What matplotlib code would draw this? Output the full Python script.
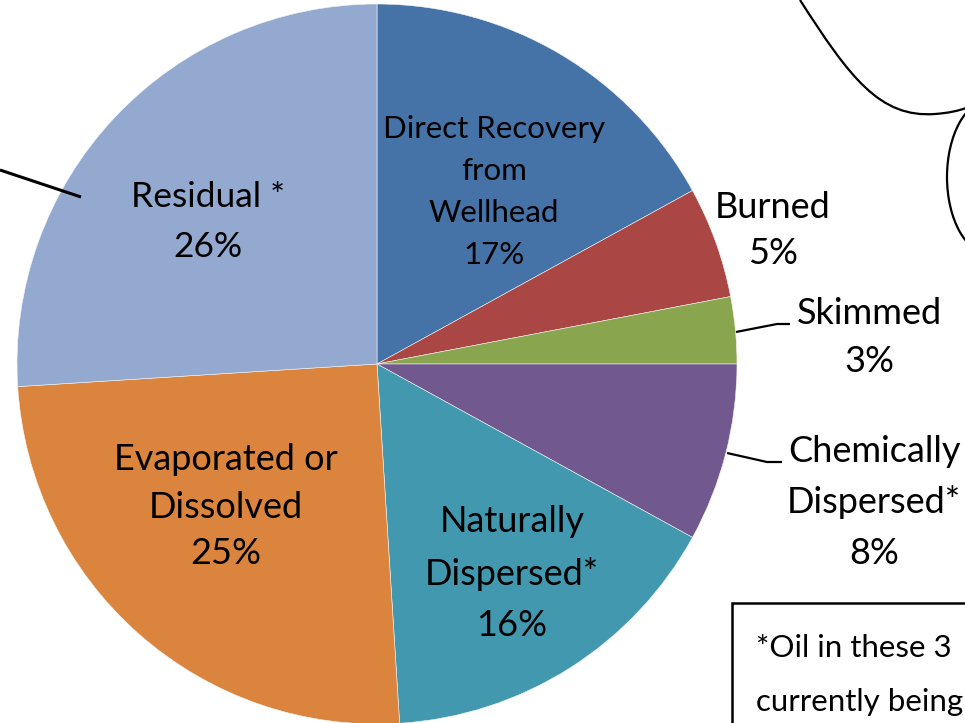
import matplotlib
matplotlib.use("Agg")
import matplotlib.pyplot as plt
from matplotlib.patches import Ellipse, PathPatch, Rectangle
from matplotlib.path import Path

plt.rcParams['font.family'] = ['Lato', 'DejaVu Sans']

# ---- data ----
categories = ["Direct Recovery from Wellhead", "Burned", "Skimmed",
              "Chemically Dispersed", "Naturally Dispersed",
              "Evaporated or Dissolved", "Residual"]
values = [17, 5, 3, 8, 16, 25, 26]
label_lines = [
    ["Direct Recovery", "from", "Wellhead"],
    ["Burned"],
    ["Skimmed"],
    ["Chemically", "Dispersed*"],
    ["Naturally", "Dispersed*"],
    ["Evaporated or", "Dissolved"],
    ["Residual *"],
]
colors = ["#4572A7", "#AA4643", "#89A54E", "#71588F", "#4198AF", "#DB843D", "#93A9CF"]
note_lines = ["*Oil in these 3", "currently being"]

W, H = 965, 723
def Y(y):
    return H - y

fig = plt.figure(figsize=(W / 100, H / 100), dpi=100)
ax = fig.add_axes([0, 0, 1, 1])

cx, cy, R = 377, 364, 360
ax.pie(values, colors=colors, startangle=90, counterclock=False,
       center=(cx, Y(cy)), radius=R, frame=True,
       wedgeprops=dict(edgecolor='#f4f4f4', linewidth=0.4))
ax.set_xlim(0, W)
ax.set_ylim(0, H)
ax.set_aspect('equal')
ax.axis('off')

# label layout: (x center, first-line y, line spacing, fontsize)
layout = [
    (494, 129, 42, 22.5),
    (773, 207, 47, 26),
    (869, 313, 48, 26),
    (874, 451, 51, 26),
    (512, 522, 52, 26),
    (226, 460, 47, 26),
    (208, 197, 50, 25.5),
]
for lines, v, (x, y0, dy, fs) in zip(label_lines, values, layout):
    all_lines = lines + [f"{v}%"]
    for i, t in enumerate(all_lines):
        ax.text(x, Y(y0 + i * dy), t, ha='center', va='center',
                fontsize=fs, color='black')

# leader lines
lw = 1.6
ax.plot([736, 777, 790], [Y(332), Y(324), Y(324)], color='black', lw=lw, solid_capstyle='butt')
ax.plot([727, 767, 782], [Y(453), Y(462), Y(462)], color='black', lw=lw, solid_capstyle='butt')
ax.plot([0, 81], [Y(170), Y(197)], color='black', lw=2.2, solid_capstyle='butt')

# decorative outlines at top right
verts = [(800, Y(0)), (850, Y(78)), (880, Y(118)), (935, Y(114)),
         (948, Y(113)), (958, Y(111)), (966, Y(108))]
codes = [Path.MOVETO, Path.CURVE4, Path.CURVE4, Path.CURVE4,
         Path.CURVE4, Path.CURVE4, Path.CURVE4]
ax.add_patch(PathPatch(Path(verts, codes), fill=False, edgecolor='black', lw=1.6))
ax.add_patch(Ellipse((990, Y(177)), 86, 154, fill=False, edgecolor='black', lw=1.6))

# note box
ax.add_patch(Rectangle((732, Y(730)), 300, 127, fill=False, edgecolor='black', lw=1.8))
ax.text(756, Y(648), note_lines[0], ha='left', va='center', fontsize=22.5)
ax.text(756, Y(702), note_lines[1], ha='left', va='center', fontsize=22.5)

fig.savefig("out.png", dpi=100)
